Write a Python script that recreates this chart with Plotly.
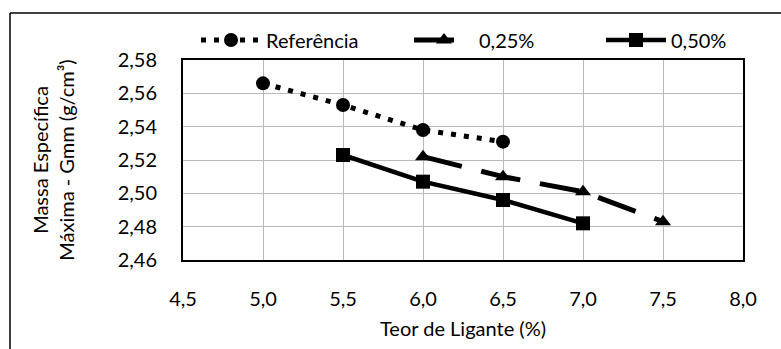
import plotly.graph_objects as go

# Teor de ligante (%) e massa específica máxima Gmm (g/cm³)
teor_ref = [5.0, 5.5, 6.0, 6.5]
gmm_ref = [2.566, 2.553, 2.538, 2.531]

teor_025 = [6.0, 6.5, 7.0, 7.5]
gmm_025 = [2.522, 2.510, 2.501, 2.483]

teor_050 = [5.5, 6.0, 6.5, 7.0]
gmm_050 = [2.523, 2.507, 2.496, 2.482]

series_names = ["Referência", "0,25%", "0,50%"]

W, H = 781, 349
L, R, T, B = 183, 38, 60, 89
FONT = "Lato"
pw = W - L - R
ph = H - T - B

fig = go.Figure()
fig.add_trace(go.Scatter(
    x=teor_ref, y=gmm_ref, name=series_names[0], mode="lines+markers",
    line=dict(color="black", width=5, dash="5px,8px"),
    marker=dict(symbol="circle", size=14, color="black"),
    legend="legend",
))
fig.add_trace(go.Scatter(
    x=teor_025, y=gmm_025, name=series_names[1], mode="lines+markers",
    line=dict(color="black", width=5, dash="40px,20px"),
    marker=dict(symbol="triangle-up", size=14, color="black"),
    legend="legend2",
))
fig.add_trace(go.Scatter(
    x=teor_050, y=gmm_050, name=series_names[2], mode="lines+markers",
    line=dict(color="black", width=4.5),
    marker=dict(symbol="square", size=14, color="black"),
    legend="legend3",
))

# outer chart frame: top and left edges
fig.add_shape(type="line", xref="paper", yref="paper",
              x0=(10 - L) / pw, x1=(W - L) / pw,
              y0=(H - B - 13) / ph, y1=(H - B - 13) / ph,
              line=dict(color="black", width=1.5), layer="below")
fig.add_shape(type="line", xref="paper", yref="paper",
              x0=(10 - L) / pw, x1=(10 - L) / pw,
              y0=(H - B - H) / ph, y1=(H - B - 13) / ph,
              line=dict(color="black", width=1.5), layer="below")


def legend_at(px):
    return dict(orientation="h", x=(px - L) / pw, xanchor="left",
                y=(H - B - 40) / ph, yanchor="middle",
                font=dict(size=20), bgcolor="rgba(0,0,0,0)", itemwidth=60)


fig.update_layout(
    width=W, height=H,
    margin=dict(l=L, r=R, t=T, b=B, autoexpand=False),
    paper_bgcolor="white", plot_bgcolor="white",
    separators=",.",
    font=dict(family=FONT, size=20, color="black"),
    showlegend=True,
    legend=legend_at(196),
    legend2=legend_at(409),
    legend3=legend_at(601),
    xaxis=dict(range=[4.5, 8.0], dtick=0.5, tick0=4.5, tickformat=".1f",
               showgrid=True, gridcolor="#b8b8b8", gridwidth=1,
               showline=True, linecolor="black", linewidth=2, mirror=True,
               ticks="", zeroline=False, ticklabelstandoff=20, automargin=False,
               title=dict(text="Teor de Ligante (%)", font=dict(size=20), standoff=13)),
    yaxis=dict(range=[2.46, 2.58], dtick=0.02, tick0=2.46, tickformat=".2f",
               showgrid=True, gridcolor="#b8b8b8", gridwidth=1,
               showline=True, linecolor="black", linewidth=2, mirror=True,
               ticks="", zeroline=False, ticklabelstandoff=20, automargin=False,
               title=dict(text="Massa Específica<br>Máxima - Gmm (g/cm³)",
                          font=dict(size=20), standoff=38)),
)

fig.write_html("out.html")
